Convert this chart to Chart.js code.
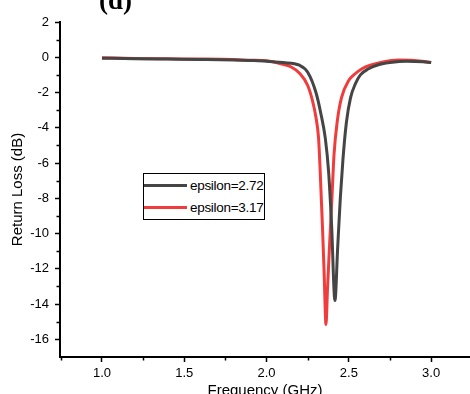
<!DOCTYPE html>
<html>
<head>
<meta charset="utf-8">
<script src="https://cdn.jsdelivr.net/npm/chart.js@4"></script>
<style>
  html, body { margin: 0; padding: 0; background: #fff; }
  #wrap { position: relative; width: 470px; height: 394px; overflow: hidden; }
  #panel-tag { position: absolute; left: 99px; top: -15px; font: bold 27px "Liberation Serif", serif; color: #000; }
  #legend { position: absolute; left: 143px; top: 173px; width: 122px; height: 47px; border: 1px solid #000;
            box-sizing: border-box; background: #fff; font: 13.5px "Liberation Sans", Arial, sans-serif;
            letter-spacing: -0.3px; color: #000; }
  #legend .row { position: absolute; left: 0; height: 16px; display: flex; align-items: center; white-space: nowrap; }
  #legend .swatch { width: 43px; height: 3px; margin-right: 3px; }
</style>
</head>
<body>
<div id="wrap">
  <canvas id="chart" width="470" height="394"></canvas>
  <div id="panel-tag">(d)</div>
  <div id="legend"></div>
</div>
<script>
// Return loss vs frequency, two substrate permittivities

const freqLow  = [1.0, 1.2, 1.4, 1.6, 1.8, 1.9, 2.0, 2.1, 2.2, 2.25, 2.3, 2.33, 2.357, 2.377, 2.395, 2.4155,
                  2.432, 2.448, 2.464, 2.485, 2.51, 2.54, 2.57, 2.62, 2.67, 2.75, 2.85, 2.95, 3.0];
const lossLow  = [-0.05, -0.08, -0.1, -0.12, -0.15, -0.18, -0.22, -0.3, -0.45, -0.85, -2.0, -3.2, -4.6, -6.5, -9.5, -13.8,
                  -10.8, -8.0, -5.8, -3.7, -2.3, -1.5, -1.0, -0.65, -0.45, -0.3, -0.22, -0.25, -0.3];

const freqHigh = [1.0, 1.2, 1.4, 1.6, 1.8, 1.9, 2.0, 2.1, 2.15, 2.2, 2.25, 2.28, 2.3, 2.316, 2.326, 2.34, 2.35, 2.361,
                  2.37, 2.382, 2.397, 2.41, 2.43, 2.455, 2.5, 2.53, 2.58, 2.63, 2.7, 2.8, 2.9, 3.0];
const lossHigh = [-0.03, -0.07, -0.09, -0.1, -0.13, -0.17, -0.2, -0.4, -0.55, -0.9, -1.6, -2.5, -3.4, -4.6, -6.5, -9.7, -12.3, -15.15,
                  -13.2, -10.8, -8.0, -5.5, -3.6, -2.3, -1.3, -1.0, -0.65, -0.45, -0.28, -0.16, -0.18, -0.29];

const seriesLabels = ['epsilon=2.72', 'epsilon=3.17'];
const seriesColors = ['#454545', '#f03c3c'];

const xTicks = [1.0, 1.5, 2.0, 2.5, 3.0];
const xMinor = [0.75, 1.25, 1.75, 2.25, 2.75];
const yTicks = [2, 0, -2, -4, -6, -8, -10, -12, -14, -16];
const yMinor = [1, -1, -3, -5, -7, -9, -11, -13, -15];

function toPoints(xs, ys) {
  return xs.map((x, i) => ({ x: x, y: ys[i] }));
}

// short minor ticks on the outside of both axes
const minorTicks = {
  id: 'minorTicks',
  afterDraw(chart) {
    const { ctx, scales: { x, y } } = chart;
    ctx.save();
    ctx.strokeStyle = '#000';
    ctx.lineWidth = 1.5;
    xMinor.forEach(v => {
      const px = Math.round(x.getPixelForValue(v)) + 0.5;
      ctx.beginPath(); ctx.moveTo(px, x.top); ctx.lineTo(px, x.top + 3.5); ctx.stroke();
    });
    yMinor.forEach(v => {
      const py = Math.round(y.getPixelForValue(v)) + 0.5;
      ctx.beginPath(); ctx.moveTo(y.right, py); ctx.lineTo(y.right - 3.5, py); ctx.stroke();
    });
    ctx.restore();
  }
};

const tickFont = { family: '"Liberation Sans", Arial, sans-serif', size: 13 };
const titleFont = { family: '"Liberation Sans", Arial, sans-serif', size: 15 };

const chart = new Chart(document.getElementById('chart'), {
  type: 'line',
  data: {
    datasets: [
      { label: seriesLabels[0], data: toPoints(freqLow, lossLow),  borderColor: seriesColors[0], backgroundColor: seriesColors[0] },
      { label: seriesLabels[1], data: toPoints(freqHigh, lossHigh), borderColor: seriesColors[1], backgroundColor: seriesColors[1] }
    ]
  },
  options: {
    responsive: false,
    animation: false,
    events: [],
    layout: { padding: { top: 22, right: 0, left: 0, bottom: 0 } },
    elements: {
      line: { borderWidth: 3, cubicInterpolationMode: 'monotone' },
      point: { radius: 0 }
    },
    plugins: { legend: { display: false }, tooltip: { enabled: false } },
    scales: {
      x: {
        type: 'linear',
        min: 0.745,
        max: 3.236,
        afterFit: s => { s.height = 37; },
        afterBuildTicks: s => { s.ticks = xTicks.map(v => ({ value: v })); },
        border: { color: '#000', width: 2 },
        grid: { drawOnChartArea: false, tickLength: 5, tickColor: '#000', tickWidth: 1.5 },
        ticks: { color: '#000', font: tickFont, padding: 4, maxRotation: 0, callback: v => v.toFixed(1) },
        title: { display: true, text: 'Frequency (GHz)', color: '#000', font: titleFont, padding: { top: 0, bottom: -6 } }
      },
      y: {
        min: -17,
        max: 2,
        afterFit: s => { s.width = 60; },
        afterBuildTicks: s => { s.ticks = yTicks.map(v => ({ value: v })); },
        border: { color: '#000', width: 2 },
        grid: { drawOnChartArea: false, tickLength: 5, tickColor: '#000', tickWidth: 1.5 },
        ticks: { color: '#000', font: tickFont, padding: 6, callback: v => String(v) },
        title: { display: true, text: 'Return Loss (dB)', color: '#000', font: titleFont, padding: { top: 9, bottom: 0 } }
      }
    }
  },
  plugins: [minorTicks]
});

// legend box inside the plot, built from the datasets
const legend = document.getElementById('legend');
chart.data.datasets.forEach((ds, i) => {
  const row = document.createElement('div');
  row.className = 'row';
  row.style.top = (3 + i * 22) + 'px';
  row.innerHTML = `<span class="swatch" style="background:${ds.borderColor}"></span><span>${ds.label}</span>`;
  legend.appendChild(row);
});
</script>
</body>
</html>
